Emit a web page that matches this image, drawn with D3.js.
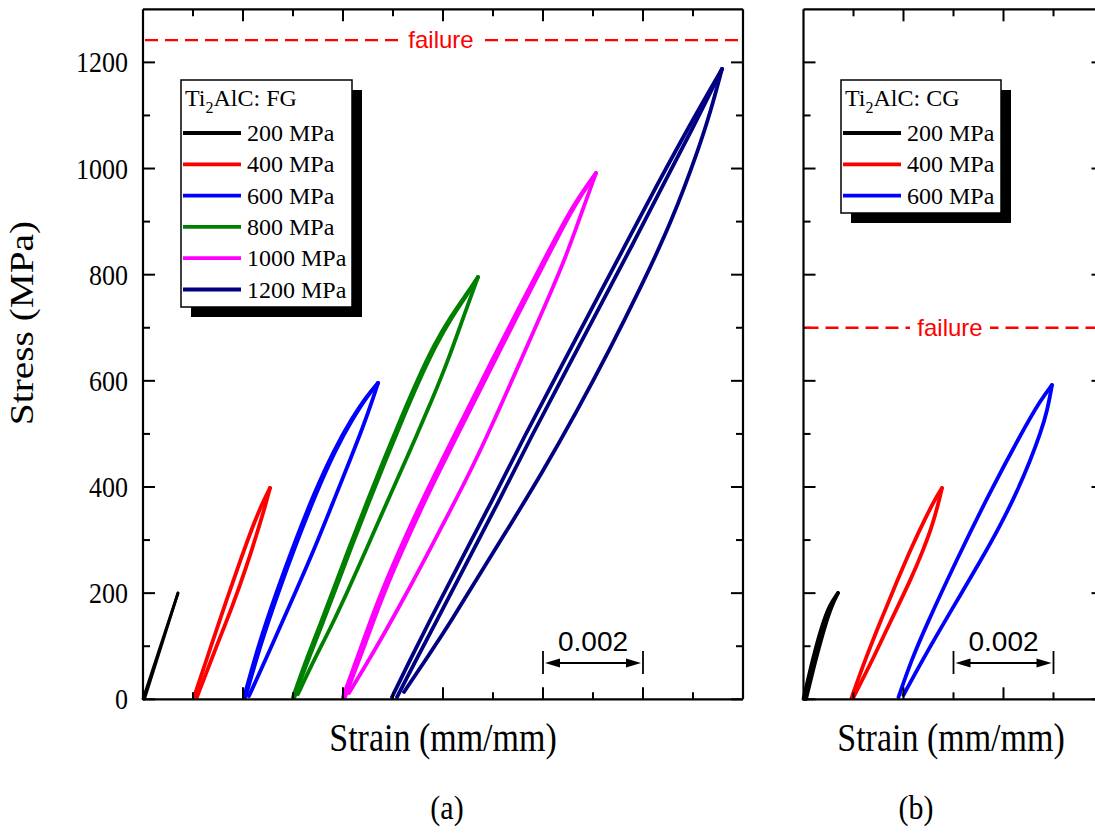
<!DOCTYPE html>
<html><head><meta charset="utf-8">
<script src="https://cdn.jsdelivr.net/npm/d3@7"></script>
<style>body{margin:0;background:#fff}</style>
</head><body><svg id="c" width="1095" height="837"></svg>
<script>
// ---------------- data ----------------
const stressTicks = [0, 200, 400, 600, 800, 1000, 1200];
const stressMinorTicks = [100, 300, 500, 700, 900, 1100];
const strainMajorA = [0.002, 0.004, 0.006, 0.008, 0.010];
const strainMinorA = [0.001, 0.003, 0.005, 0.007, 0.009, 0.011];
const strainMajorB = [0.002, 0.004];
const strainMinorB = [0.001, 0.003, 0.005];
const fgLabels = ["200 MPa", "400 MPa", "600 MPa", "800 MPa", "1000 MPa", "1200 MPa"];
const cgLabels = ["200 MPa", "400 MPa", "600 MPa"];
const seriesColors = ["#000000", "#ff0000", "#0000ff", "#008000", "#ff00ff", "#000080"];
const failureFG = 1242;
const failureCG = 700;
const scaleBarFG = [0.008, 0.010];
const scaleBarCG = [0.003, 0.005];
const scaleBarText = "0.002";

// loops: each is a list of branches of [strain, stress] points
const fg200 = [
  [[0, 0.6], [0.0007, 200.3]],
  [[0.0007, 200.3], [0.00003, 0.6]]
];
const fg400 = [
  [[0.00102, 4.3], [0.00136, 100], [0.00168, 190], [0.00196, 265], [0.00219, 325], [0.00238, 368], [0.00254, 398.1]],
  [[0.00108, 4.3], [0.00144, 92.9], [0.0018, 177.7], [0.00208, 253], [0.0023, 318.9], [0.00245, 366], [0.00254, 398.1]]
];
const fg600 = [
  [[0.00202, 4.3], [0.00232, 106], [0.00266, 200], [0.00303, 295], [0.00342, 388], [0.00382, 470], [0.00418, 530], [0.00448, 572], [0.0047, 595.9]],
  [[0.00205, 4.3], [0.00236, 106], [0.0027, 200], [0.00307, 295], [0.00346, 388], [0.00385, 470], [0.0042, 530], [0.00449, 572], [0.0047, 595.9]],
  [[0.00212, 6.2], [0.00254, 92.9], [0.00298, 187.1], [0.00342, 281.3], [0.00382, 375.5], [0.00414, 450.8], [0.0044, 513], [0.00459, 563.9], [0.0047, 595.9]]
];
const fg800 = [
  [[0.003, 4.3], [0.00326, 74], [0.00354, 140], [0.0038, 205], [0.00414, 290], [0.00448, 372], [0.00482, 452], [0.00516, 530], [0.00548, 600], [0.00582, 668], [0.00616, 722], [0.00646, 762], [0.0067, 795.6]],
  [[0.00303, 4.3], [0.0033, 74], [0.00358, 140], [0.00384, 205], [0.00418, 290], [0.00452, 372], [0.00486, 452], [0.0052, 530], [0.00552, 600], [0.00586, 668], [0.00619, 722], [0.00648, 762], [0.0067, 795.6]],
  [[0.0031, 10], [0.00342, 74], [0.00376, 136], [0.0041, 205], [0.00444, 277], [0.00478, 350], [0.00512, 422], [0.00545, 492], [0.00578, 564], [0.0061, 638], [0.0064, 718], [0.0067, 795.6]]
];
const fg1000 = [
  [[0.004, 4.3], [0.00434, 92.9], [0.0047, 187.1], [0.0051, 275.6], [0.0055, 358.5], [0.00588, 432], [0.00624, 500], [0.0066, 567], [0.00696, 635], [0.00752, 738], [0.00806, 835], [0.0086, 932], [0.00906, 991.5]],
  [[0.00404, 4.3], [0.0044, 92.9], [0.00476, 187.1], [0.00516, 275.6], [0.00556, 358.5], [0.00594, 432], [0.0063, 500], [0.00666, 567], [0.00702, 635], [0.00757, 738], [0.0081, 835], [0.00863, 932], [0.00906, 991.5]],
  [[0.00412, 11.9], [0.00464, 92.9], [0.0052, 187.1], [0.0057, 275.6], [0.00616, 358.5], [0.00656, 432], [0.0069, 500], [0.00722, 567], [0.00754, 635], [0.008, 733], [0.00846, 833], [0.00884, 935], [0.00906, 991.5]]
];
const fg1200 = [
  [[0.00498, 4.3], [0.00534, 74], [0.00572, 145.6], [0.0063, 251.1], [0.00696, 369.8], [0.00762, 494.2], [0.00838, 629.8], [0.00914, 765.4], [0.0097, 865.3], [0.01028, 968.9], [0.0109, 1076.3], [0.01158, 1187.5]],
  [[0.00508, 4.3], [0.00546, 74], [0.00586, 145.6], [0.00644, 251.1], [0.0071, 369.8], [0.00776, 494.2], [0.00852, 629.8], [0.00928, 765.4], [0.00984, 865.3], [0.0104, 968.9], [0.011, 1076.3], [0.01158, 1187.5]],
  [[0.00522, 13.8], [0.00572, 83.5], [0.0062, 153.2], [0.00664, 221], [0.00732, 324.6], [0.00798, 426.3], [0.00866, 539.4], [0.00932, 656.2], [0.00996, 776.8], [0.01058, 901.1], [0.01112, 1038.6], [0.01136, 1110.2], [0.01158, 1187.5]]
];
const cg200 = [
  [[0, 0.6], [0.00018, 74], [0.00036, 136.2], [0.00052, 177.7], [0.00069, 200.3]],
  [[0.00005, 0.6], [0.00024, 74], [0.00042, 136.2], [0.00057, 177.7], [0.00069, 200.3]]
];
const cg400 = [
  [[0.00096, 2.4], [0.00123, 74], [0.00155, 149.4], [0.00188, 224.8], [0.00218, 290.7], [0.00242, 337.8], [0.00262, 375.5], [0.00277, 398.1]],
  [[0.00099, 2.4], [0.00133, 64.6], [0.00164, 126.8], [0.0019, 177.7], [0.00214, 224.8], [0.00237, 275.6], [0.00256, 322.7], [0.00269, 366], [0.00277, 398.1]]
];
const cg600 = [
  [[0.0019, 4.3], [0.00216, 74], [0.00244, 136.2], [0.00306, 262.4], [0.00372, 388.7], [0.00436, 501.7], [0.00474, 563.9], [0.00497, 592.1]],
  [[0.002, 8.1], [0.00238, 74], [0.00276, 136.2], [0.00316, 200.3], [0.00355, 262.4], [0.00392, 324.6], [0.00426, 388.7], [0.00454, 450.8], [0.00474, 501.7], [0.00488, 545], [0.00497, 592.1]]
];
const fgLoops = [fg200, fg400, fg600, fg800, fg1000, fg1200];
const cgLoops = [cg200, cg400, cg600];

// ---------------- drawing ----------------
const svg = d3.select("#c");
svg.append("rect").attr("width", 1095).attr("height", 837).attr("fill", "#fff");

const yTop = 9.3, yBot = 699.3;
const y = d3.scaleLinear().domain([0, 1300]).range([yBot, yTop]);
const xA = d3.scaleLinear().domain([0, 0.012]).range([143, 743]);
const xB = d3.scaleLinear().domain([0, 0.006]).range([803.5, 1103.5]);
const SERIF = "'Liberation Serif','Times New Roman',serif";
const SANS = "'Liberation Sans',Arial,sans-serif";

function stretched(g, x, yy, txt, size, anchor, fam) {
  return g.append("text")
    .attr("transform", `translate(${x},${yy}) scale(1,1.15)`)
    .attr("text-anchor", anchor).attr("font-family", fam)
    .attr("font-size", size).attr("fill", "#000").text(txt);
}

function panel(xs, majorX, minorX, loops, showYLabels) {
  const g = svg.append("g");
  const [x0, x1] = xs.range();
  const line = d3.line().x(d => xs(d[0])).y(d => y(d[1])).curve(d3.curveBasis);
  loops.forEach((loop, i) => {
    loop.forEach(br => {
      g.append("path").attr("d", line(br)).attr("fill", "none")
        .attr("stroke", seriesColors[i]).attr("stroke-width", i === 0 && showYLabels ? 2.8 : 3.8)
        .attr("stroke-linecap", "round").attr("stroke-linejoin", "round");
    });
  });
  const fr = g.append("g").attr("stroke", "#000").attr("stroke-width", 2.2).attr("fill", "none");
  fr.append("line").attr("x1", x0).attr("x2", x1).attr("y1", yTop).attr("y2", yTop);
  fr.append("line").attr("x1", x0).attr("x2", x1).attr("y1", yBot).attr("y2", yBot);
  fr.append("line").attr("x1", x0).attr("x2", x0).attr("y1", yTop).attr("y2", yBot);
  fr.append("line").attr("x1", x1).attr("x2", x1).attr("y1", yTop).attr("y2", yBot);
  const tk = g.append("g").attr("stroke", "#000").attr("stroke-width", 2);
  majorX.forEach(v => {
    tk.append("line").attr("x1", xs(v)).attr("x2", xs(v)).attr("y1", yBot).attr("y2", yBot - 12);
    tk.append("line").attr("x1", xs(v)).attr("x2", xs(v)).attr("y1", yTop).attr("y2", yTop + 12);
  });
  minorX.forEach(v => {
    tk.append("line").attr("x1", xs(v)).attr("x2", xs(v)).attr("y1", yBot).attr("y2", yBot - 7);
    tk.append("line").attr("x1", xs(v)).attr("x2", xs(v)).attr("y1", yTop).attr("y2", yTop + 7);
  });
  stressTicks.forEach(v => {
    tk.append("line").attr("x1", x0).attr("x2", x0 + 12).attr("y1", y(v)).attr("y2", y(v));
    tk.append("line").attr("x1", x1).attr("x2", x1 - 12).attr("y1", y(v)).attr("y2", y(v));
  });
  stressMinorTicks.forEach(v => {
    tk.append("line").attr("x1", x0).attr("x2", x0 + 7).attr("y1", y(v)).attr("y2", y(v));
    tk.append("line").attr("x1", x1).attr("x2", x1 - 7).attr("y1", y(v)).attr("y2", y(v));
  });
  if (showYLabels) {
    stressTicks.forEach(v => stretched(g, x0 - 15, y(v) + 10, String(v), 26, "end", SERIF));
  }
  return g;
}

const gA = panel(xA, strainMajorA, strainMinorA, fgLoops, true);
const gB = panel(xB, strainMajorB, strainMinorB, cgLoops, false);

function failure(g, xs, val, cx) {
  const [x0, x1] = xs.range();
  g.append("line").attr("x1", x0 + 2).attr("x2", Math.min(x1, 1095)).attr("y1", y(val)).attr("y2", y(val))
    .attr("stroke", "#ff0000").attr("stroke-width", 2.4).attr("stroke-dasharray", "13,7");
  g.append("rect").attr("x", cx - 40).attr("y", y(val) - 14).attr("width", 80).attr("height", 24).attr("fill", "#fff");
  g.append("text").attr("x", cx).attr("y", y(val) + 8).attr("text-anchor", "middle")
    .attr("font-family", SANS).attr("font-size", 24).attr("fill", "#ff0000").text("failure");
}
failure(gA, xA, failureFG, 441);
failure(gB, xB, failureCG, 950);

function scaleBar(g, xs, vals) {
  const a = xs(vals[0]), b = xs(vals[1]), yy = 663;
  const s = g.append("g");
  s.append("line").attr("x1", a).attr("x2", a).attr("y1", 651).attr("y2", 674).attr("stroke", "#000").attr("stroke-width", 1.8);
  s.append("line").attr("x1", b).attr("x2", b).attr("y1", 651).attr("y2", 674).attr("stroke", "#000").attr("stroke-width", 1.8);
  s.append("line").attr("x1", a + 10).attr("x2", b - 10).attr("y1", yy).attr("y2", yy).attr("stroke", "#000").attr("stroke-width", 2);
  s.append("path").attr("d", `M${a + 2},${yy} L${a + 17},${yy - 4.5} L${a + 17},${yy + 4.5} Z`).attr("fill", "#000");
  s.append("path").attr("d", `M${b - 2},${yy} L${b - 17},${yy - 4.5} L${b - 17},${yy + 4.5} Z`).attr("fill", "#000");
  s.append("text").attr("x", (a + b) / 2).attr("y", 651).attr("text-anchor", "middle")
    .attr("font-family", SANS).attr("font-size", 28).attr("fill", "#000").text(scaleBarText);
}
scaleBar(gA, xA, scaleBarFG);
scaleBar(gB, xB, scaleBarCG);

function legend(x, yy, w, h, title, labels) {
  const g = svg.append("g");
  g.append("rect").attr("x", x + 10).attr("y", yy + 10).attr("width", w).attr("height", h).attr("fill", "#000");
  g.append("rect").attr("x", x).attr("y", yy).attr("width", w).attr("height", h).attr("fill", "#fff").attr("stroke", "#000").attr("stroke-width", 1.5);
  const t = g.append("text").attr("x", x + 4).attr("y", yy + 26).attr("font-family", SERIF).attr("font-size", 24).attr("fill", "#000");
  t.append("tspan").text("Ti");
  t.append("tspan").attr("font-size", 16).attr("dy", 7).text("2");
  t.append("tspan").attr("dy", -7).text(title);
  labels.forEach((lab, i) => {
    const cy = yy + 53 + i * 31.3;
    g.append("line").attr("x1", x + 2).attr("x2", x + 60).attr("y1", cy).attr("y2", cy)
      .attr("stroke", seriesColors[i]).attr("stroke-width", 3.8);
    g.append("text").attr("x", x + 66).attr("y", cy + 8).attr("font-family", SERIF).attr("font-size", 24).attr("fill", "#000").text(lab);
  });
}
legend(181, 80, 171, 227, "AlC: FG", fgLabels);
legend(841, 80, 160, 133, "AlC: CG", cgLabels);

svg.append("text").attr("transform", "translate(33,323) rotate(-90) scale(1.157,1)")
  .attr("text-anchor", "middle").attr("font-family", SERIF).attr("font-size", 34).text("Stress (MPa)");
stretched(svg, 443, 751, "Strain (mm/mm)", 34, "middle", SERIF);
stretched(svg, 951, 751, "Strain (mm/mm)", 34, "middle", SERIF);
stretched(svg, 447, 819, "(a)", 30, "middle", SERIF);
stretched(svg, 916, 819, "(b)", 30, "middle", SERIF);
</script></body></html>
